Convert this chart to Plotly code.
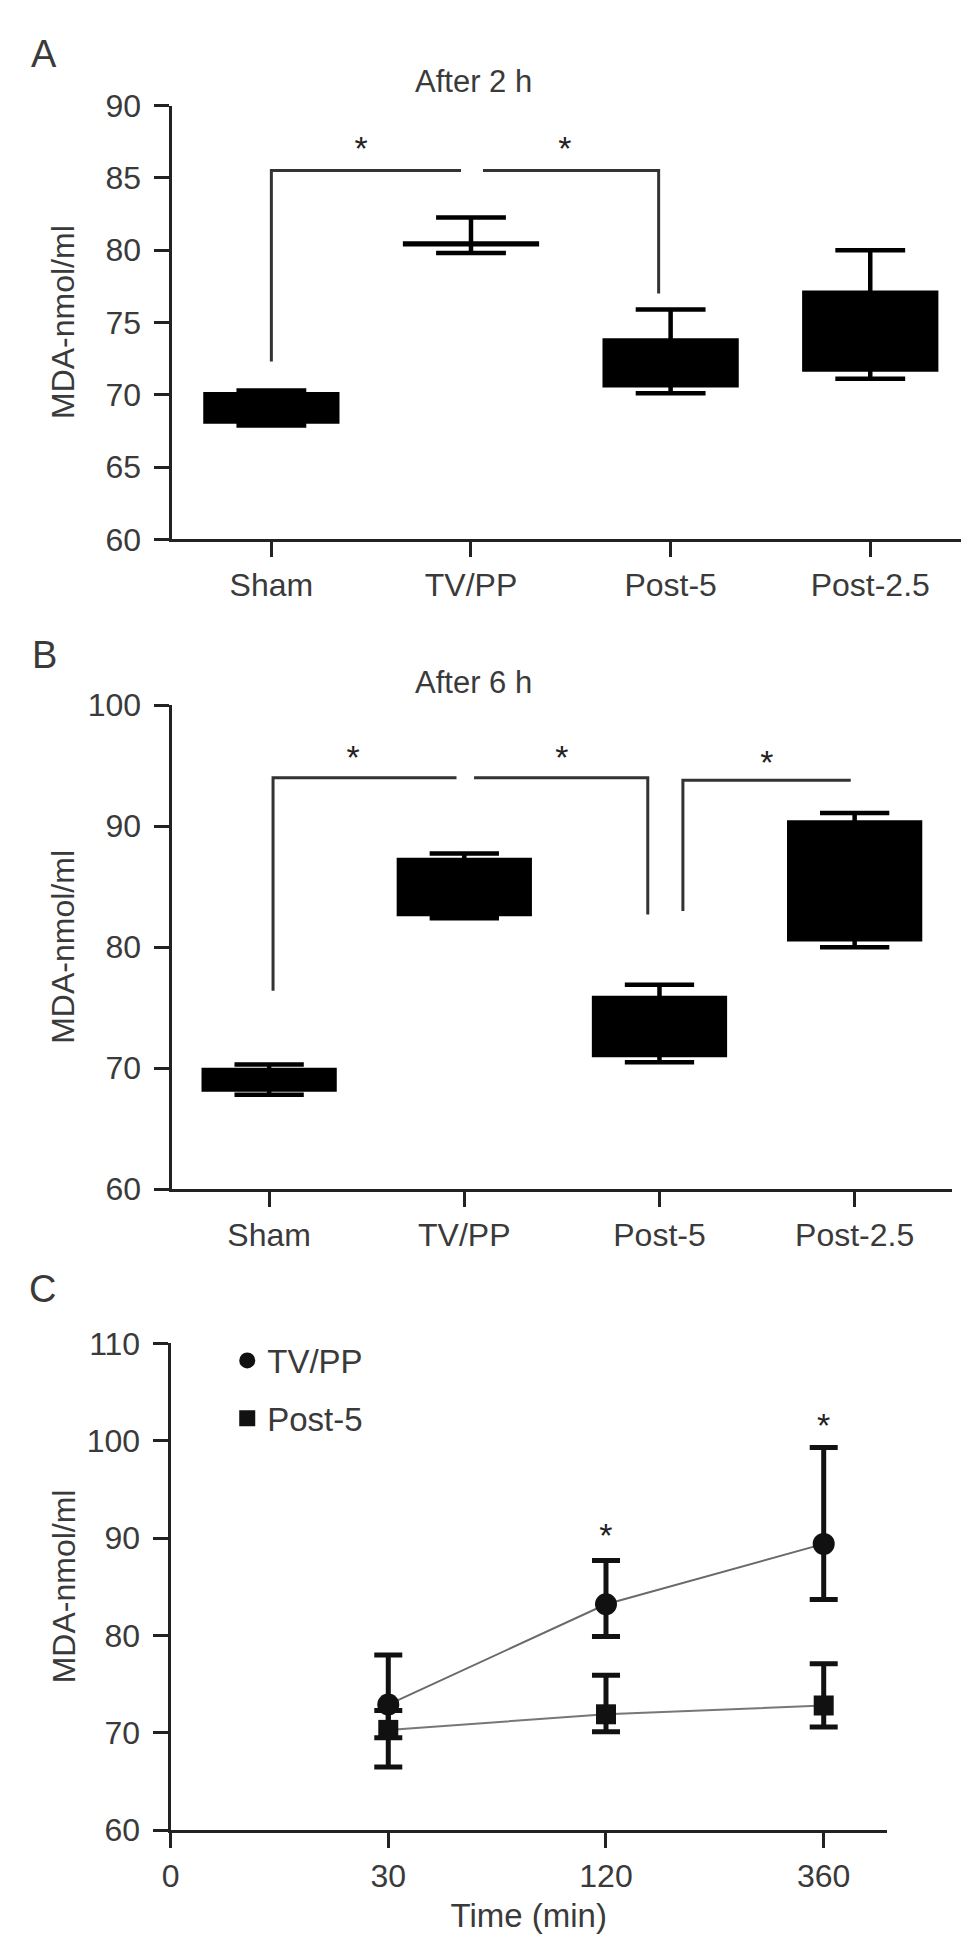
import plotly.graph_objects as go

# ---- data ----
groups = ["Sham", "TV/PP", "Post-5", "Post-2.5"]

# panel A: after 2 h (box stats)
a_low = [67.88, 79.8, 70.1, 71.1]
a_q1 = [68.15, 80.41, 70.65, 71.75]
a_med = [69.0, 80.43, 72.0, 74.0]
a_q3 = [70.04, 80.45, 73.75, 77.05]
a_high = [70.3, 82.26, 75.9, 80.0]

# panel B: after 6 h (box stats)
b_low = [67.8, 82.4, 70.5, 80.0]
b_q1 = [68.25, 82.75, 71.1, 80.65]
b_med = [69.0, 85.0, 73.0, 85.0]
b_q3 = [69.85, 87.2, 75.8, 90.3]
b_high = [70.3, 87.75, 76.9, 91.1]

# significance brackets (x in category units, y in MDA units)
brk_a_x = [[0.0, 0.0, 0.95], [1.06, 1.94, 1.94]]
brk_a_y = [[72.3, 85.5, 85.5], [85.5, 85.5, 77.0]]
star_a_x = [0.45, 1.47]
star_a_y = [86.8, 86.8]

brk_b_x = [[0.02, 0.02, 0.96], [1.05, 1.94, 1.94], [2.12, 2.12, 2.98]]
brk_b_y = [[76.4, 94.0, 94.0], [94.0, 94.0, 82.7], [83.0, 93.8, 93.8]]
star_b_x = [0.43, 1.5, 2.55]
star_b_y = [95.4, 95.4, 95.0]

# panel C: time course
time_ticks = ["0", "30", "120", "360"]
time_points = ["30", "120", "360"]
tvpp_mean = [72.9, 83.2, 89.4]
tvpp_upper = [78.0, 87.7, 99.3]
tvpp_lower = [69.5, 79.9, 83.7]
post5_mean = [70.3, 71.9, 72.8]
post5_upper = [72.3, 75.9, 77.1]
post5_lower = [66.5, 70.1, 70.6]
star_c_t = ["120", "360"]
star_c_y = [90.0, 101.2]

FONT = "Liberation Sans, Arial, sans-serif"
TXT = "#3a3a3a"
AX = "#222222"
W, H = 969, 1956

fig = go.Figure()
xg = list(range(len(groups)))

# --- boxes ---
box_style = dict(fillcolor="black", line=dict(color="black", width=4.5), whiskerwidth=0.53,
                 boxpoints=False, showlegend=False, hoverinfo="skip")
fig.add_trace(go.Box(x=xg, q1=a_q1, median=a_med, q3=a_q3, lowerfence=a_low, upperfence=a_high,
                     xaxis="x", yaxis="y", width=0.66, **box_style))
fig.add_trace(go.Box(x=xg, q1=b_q1, median=b_med, q3=b_q3, lowerfence=b_low, upperfence=b_high,
                     xaxis="x2", yaxis="y2", width=0.67, **box_style))

# --- brackets + stars ---
for xa, ya, bxs, bys in [("x", "y", brk_a_x, brk_a_y), ("x2", "y2", brk_b_x, brk_b_y)]:
    for bx, by in zip(bxs, bys):
        fig.add_trace(go.Scatter(x=bx, y=by, xaxis=xa, yaxis=ya, mode="lines",
                                 line=dict(color="#333", width=3), showlegend=False, hoverinfo="skip"))
for xa, ya, sx, sy in [("x", "y", star_a_x, star_a_y), ("x2", "y2", star_b_x, star_b_y)]:
    fig.add_trace(go.Scatter(x=sx, y=sy, xaxis=xa, yaxis=ya, mode="text", text=["*"] * len(sx),
                             textfont=dict(size=34, color="#222", family=FONT),
                             showlegend=False, hoverinfo="skip"))

# --- panel C ---
xc = [time_ticks.index(t) for t in time_points]
for mean, col in [(tvpp_mean, "#6a6a6a"), (post5_mean, "#777777")]:
    fig.add_trace(go.Scatter(x=xc, y=mean, xaxis="x3", yaxis="y3", mode="lines",
                             line=dict(color=col, width=2), showlegend=False, hoverinfo="skip"))

for name, mean, up, lo, sym, sz in [("TV/PP", tvpp_mean, tvpp_upper, tvpp_lower, "circle", 22),
                                    ("Post-5", post5_mean, post5_upper, post5_lower, "square", 20)]:
    fig.add_trace(go.Scatter(
        x=xc, y=mean, xaxis="x3", yaxis="y3", mode="markers", name=name,
        marker=dict(symbol=sym, size=sz, color="#111"),
        error_y=dict(type="data", symmetric=False,
                     array=[u - m for u, m in zip(up, mean)],
                     arrayminus=[m - l for m, l in zip(mean, lo)],
                     color="#111", thickness=5, width=14),
        legendgroup=name))

fig.add_trace(go.Scatter(x=[time_ticks.index(t) for t in star_c_t], y=star_c_y, xaxis="x3", yaxis="y3",
                         mode="text", text=["*"] * len(star_c_t),
                         textfont=dict(size=34, color="#222", family=FONT), showlegend=False, hoverinfo="skip"))


def ydom(top_px, bot_px):
    return [1 - bot_px / H, 1 - top_px / H]


axis_common = dict(showline=True, linecolor=AX, linewidth=3, ticks="outside", ticklen=15,
                   tickwidth=3, tickcolor=AX, showgrid=False, zeroline=False,
                   tickfont=dict(family=FONT, size=32, color=TXT))
yaxis_common = dict(axis_common, ticklabelstandoff=6)

fig.update_layout(
    width=W, height=H, margin=dict(l=0, r=0, t=0, b=0),
    plot_bgcolor="white", paper_bgcolor="white",
    font=dict(family=FONT, color=TXT),
    xaxis=dict(domain=[156 / W, 962 / W], anchor="y", range=[-0.5, 3.5],
               tickvals=xg, ticktext=groups, **axis_common),
    yaxis=dict(domain=ydom(81, 523), anchor="x", range=[60, 90], tickvals=[60, 65, 70, 75, 80, 85, 90],
               **yaxis_common),
    xaxis2=dict(domain=[156 / W, 944 / W], anchor="y2", range=[-0.5, 3.5],
                tickvals=xg, ticktext=groups, **axis_common),
    yaxis2=dict(domain=ydom(692, 1185), anchor="x2", range=[60, 100], tickvals=[60, 70, 80, 90, 100],
                **yaxis_common),
    xaxis3=dict(domain=[155 / W, 878 / W], anchor="y3", range=[0, 3.29],
                tickvals=list(range(len(time_ticks))), ticktext=time_ticks,
                title=dict(text="Time (min)", font=dict(family=FONT, size=33, color=TXT), standoff=12),
                **axis_common),
    yaxis3=dict(domain=ydom(1342, 1838), anchor="x3", range=[60, 110], tickvals=[60, 70, 80, 90, 100, 110],
                **yaxis_common),
    legend=dict(x=0.219, y=1 - 1331 / H, xanchor="left", yanchor="top", traceorder="grouped",
                tracegroupgap=12, font=dict(family=FONT, size=33, color=TXT), bgcolor="rgba(0,0,0,0)"),
    showlegend=True,
)

ann = [
    dict(text="A", x=27 / W, y=1 - 29 / H, size=38),
    dict(text="B", x=28 / W, y=1 - 641 / H, size=38),
    dict(text="C", x=26 / W, y=1 - 1287 / H, size=38),
    dict(text="After 2 h", x=461 / W, y=1 - 57 / H, size=31),
    dict(text="After 6 h", x=461 / W, y=1 - 669 / H, size=31),
]
for a in ann:
    fig.add_annotation(text=a["text"], x=a["x"], y=a["y"], xref="paper", yref="paper",
                       xanchor="center", yanchor="middle", showarrow=False,
                       font=dict(family=FONT, size=a["size"], color=TXT))

for yc in [(81 + 523) / 2, (692 + 1185) / 2, (1342 + 1838) / 2]:
    fig.add_annotation(text="MDA-nmol/ml", x=47 / W, y=1 - yc / H, xref="paper", yref="paper",
                       textangle=-90, xanchor="center", yanchor="middle", showarrow=False,
                       font=dict(family=FONT, size=32, color=TXT))

fig.write_html("out.html")
